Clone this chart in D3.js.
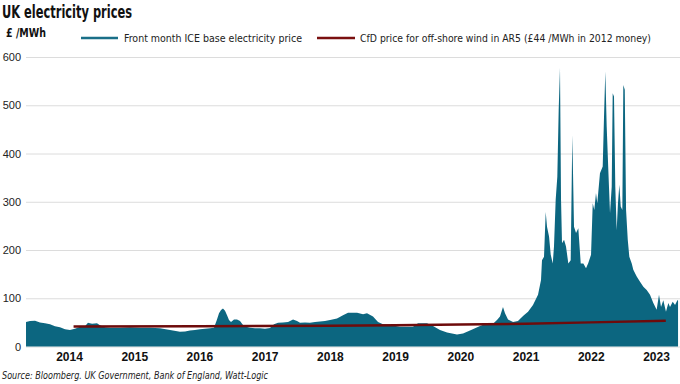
<!DOCTYPE html>
<html>
<head>
<meta charset="utf-8">
<script src="https://cdn.jsdelivr.net/npm/d3@7"></script>
<style>
  body { margin: 0; background: #fff; }
  svg { display: block; font-family: "DejaVu Sans Condensed", "Roboto", sans-serif; }
</style>
</head>
<body>
<svg id="chart" width="680" height="384"></svg>
<script>
// Front month ICE base price (decimal year, £/MWh)
const years = [
  2013.341, 2013.402, 2013.479, 2013.555, 2013.632, 2013.709, 2013.785, 2013.862, 2013.939, 2014.015,
  2014.092, 2014.169, 2014.245, 2014.291, 2014.353, 2014.429, 2014.475, 2014.552, 2014.629, 2014.782,
  2014.935, 2015.089, 2015.242, 2015.395, 2015.549, 2015.702, 2015.779, 2015.855, 2015.932, 2016.009,
  2016.085, 2016.162, 2016.223, 2016.269, 2016.300, 2016.331, 2016.361, 2016.392, 2016.423, 2016.453,
  2016.484, 2016.530, 2016.576, 2016.622, 2016.668, 2016.714, 2016.775, 2016.852, 2016.929, 2017.005,
  2017.082, 2017.143, 2017.205, 2017.281, 2017.358, 2017.435, 2017.496, 2017.542, 2017.619, 2017.695,
  2017.772, 2017.848, 2017.925, 2018.002, 2018.109, 2018.201, 2018.278, 2018.416, 2018.508, 2018.569,
  2018.661, 2018.738, 2018.814, 2018.922, 2019.075, 2019.274, 2019.351, 2019.489, 2019.581, 2019.688,
  2019.796, 2019.949, 2020.041, 2020.148, 2020.225, 2020.302, 2020.409, 2020.501, 2020.562, 2020.608,
  2020.654, 2020.685, 2020.731, 2020.808, 2020.884, 2020.961, 2021.038, 2021.114, 2021.191, 2021.237,
  2021.252, 2021.283, 2021.309, 2021.329, 2021.360, 2021.386, 2021.417, 2021.436, 2021.462, 2021.487,
  2021.508, 2021.528, 2021.544, 2021.559, 2021.590, 2021.620, 2021.656, 2021.692, 2021.717, 2021.743,
  2021.774, 2021.809, 2021.846, 2021.886, 2021.927, 2021.962, 2022.004, 2022.030, 2022.054, 2022.080,
  2022.100, 2022.141, 2022.183, 2022.203, 2022.223, 2022.244, 2022.269, 2022.295, 2022.321, 2022.336,
  2022.356, 2022.376, 2022.397, 2022.417, 2022.438, 2022.459, 2022.484, 2022.499, 2022.521, 2022.541,
  2022.567, 2022.591, 2022.628, 2022.652, 2022.704, 2022.755, 2022.806, 2022.857, 2022.908, 2022.959,
  2023.010, 2023.046, 2023.077, 2023.112, 2023.153, 2023.189, 2023.215, 2023.256, 2023.292, 2023.328,
  2023.338
];
const prices = [
  51, 53, 53.5, 50, 48, 46, 42, 40, 36, 34,
  37, 41, 42, 49, 47, 48, 44, 40, 39, 39,
  40, 39, 39, 37.7, 34, 30.7, 31, 33, 34, 35.6,
  37, 38, 39, 56, 69, 75.6, 79, 74, 65, 55,
  51, 56, 56, 53, 44.6, 41, 39, 37.7, 37.7, 37,
  38.5, 46, 49, 50, 51, 56, 53, 49, 50, 49,
  51, 52, 53, 55, 58, 65, 70, 70, 67, 69,
  62, 51, 46, 44.6, 41, 41, 48, 48, 42.5, 34,
  29, 25, 27, 33, 38, 42.5, 48, 47, 55, 62,
  82, 69, 56, 51, 53, 63, 72, 86, 107, 138,
  179, 186, 279, 248, 228, 190, 172, 207, 304, 352,
  490, 577, 304, 214, 221, 207, 172, 179, 438, 248,
  235, 245, 172, 172, 162, 173, 190, 297, 283, 318,
  297, 359, 373, 476, 570, 456, 366, 276, 331, 525,
  518, 331, 241, 297, 335, 290, 283, 542, 532, 283,
  221, 186, 172, 159, 145, 134, 124, 117, 107, 90,
  76, 107, 82, 96, 72, 90, 82, 93, 86, 96,
  96
];

// CfD strike price for offshore wind (AR5), indexed
const cfdYears = [2014.07, 2016, 2018, 2019, 2020, 2021, 2022, 2023.15];
const cfdPrices = [41.5, 42, 43, 44, 45.5, 47, 50, 53.5];

const xTicks = [2014, 2015, 2016, 2017, 2018, 2019, 2020, 2021, 2022, 2023];
const yTicks = [0, 100, 200, 300, 400, 500, 600];

const svg = d3.select("#chart");

const x = d3.scaleLinear().domain([2014, 2023]).range([69, 656]);
const y = d3.scaleLinear().domain([0, 600]).range([346.5, 57]);

// Title, unit, source
svg.append("text").attr("x", 2).attr("y", 18)
    .attr("textLength", 130).attr("lengthAdjust", "spacingAndGlyphs")
    .style("font-size", "18px").style("font-weight", "bold").attr("fill", "#111")
    .text("UK electricity prices");
svg.append("text").attr("x", 6).attr("y", 37)
    .attr("textLength", 40).attr("lengthAdjust", "spacingAndGlyphs")
    .style("font-size", "13px").style("font-weight", "bold").attr("fill", "#111")
    .text("£ /MWh");
svg.append("text").attr("x", 2).attr("y", 379)
    .attr("textLength", 266).attr("lengthAdjust", "spacingAndGlyphs")
    .style("font-size", "11px").style("font-style", "italic").attr("fill", "#222")
    .text("Source: Bloomberg. UK Government, Bank of England, Watt-Logic");

// Gridlines + y labels
const yAxis = d3.axisLeft(y).tickValues(yTicks).tickSize(-654).tickPadding(5).tickFormat(d3.format("d"));
const gy = svg.append("g").attr("transform", "translate(26,0)").call(yAxis);
gy.select(".domain").remove();
gy.selectAll(".tick line").attr("stroke", "#dcdcdc").attr("stroke-width", 1);
gy.selectAll(".tick text").attr("fill", "#222").style("font-size", "11px");

// Price area
const area = d3.area()
    .x((d, i) => x(years[i]))
    .y0(y(0))
    .y1((d, i) => y(prices[i]));
svg.append("path").datum(prices)
    .attr("fill", "#0c6680")
    .attr("d", area);

// CfD line
const line = d3.line()
    .x((d, i) => x(cfdYears[i]))
    .y((d, i) => y(cfdPrices[i]));
svg.append("path").datum(cfdPrices)
    .attr("fill", "none")
    .attr("stroke", "#6e0b0b")
    .attr("stroke-width", 2.5)
    .attr("d", line);

// X axis labels
const xAxis = d3.axisBottom(x).tickValues(xTicks).tickSize(0).tickPadding(6).tickFormat(d3.format("d"));
const gx = svg.append("g").attr("transform", "translate(0," + y(0) + ")").call(xAxis);
gx.select(".domain").remove();
gx.selectAll(".tick text").attr("fill", "#111").style("font-size", "12px").style("font-weight", "bold");

// Legend
const legend = [
    {x1: 81, x2: 118, tx: 124, w: 178, color: "#1a6f88", label: "Front month ICE base electricity price"},
    {x1: 317, x2: 355, tx: 360, w: 291, color: "#7a1010", label: "CfD price for off-shore wind in AR5 (£44 /MWh in 2012 money)"}
];
const lg = svg.append("g");
legend.forEach(l => {
    lg.append("line").attr("x1", l.x1).attr("x2", l.x2).attr("y1", 38).attr("y2", 38)
        .attr("stroke", l.color).attr("stroke-width", 2.5);
    lg.append("text").attr("x", l.tx).attr("y", 42)
        .attr("textLength", l.w).attr("lengthAdjust", "spacingAndGlyphs")
        .style("font-size", "11px").attr("fill", "#222").text(l.label);
});
</script>
</body>
</html>
